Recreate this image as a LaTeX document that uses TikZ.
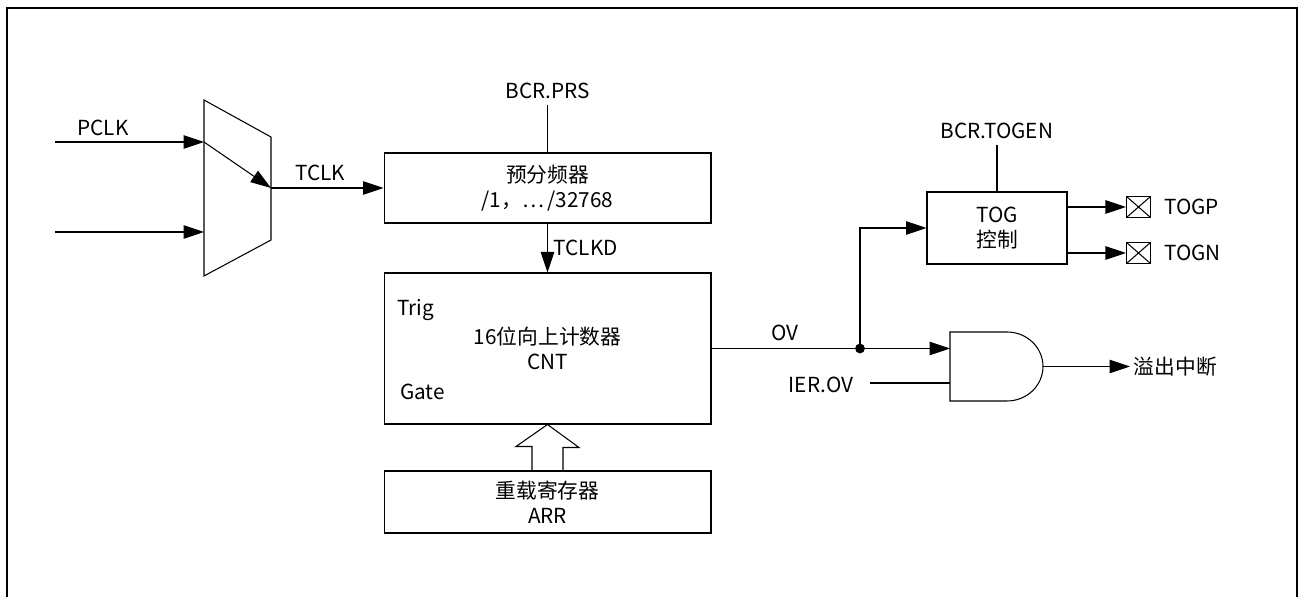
\documentclass[tikz,border=0pt]{standalone}
\usepackage{fontspec}
\setmainfont{Noto Sans CJK SC}
\usetikzlibrary{calc,positioning,arrows.meta}

\tikzset{
  blk/.style={draw, line width=0.6pt, minimum width=6.54cm, inner sep=0pt, align=center},
  sig/.style={-{Triangle[length=0.41cm, width=0.27cm]}, line width=0.6pt},
  wire/.style={line width=0.6pt},
  xbox/.style={draw, line width=0.6pt, minimum width=0.48cm, minimum height=0.42cm, inner sep=0pt,
    path picture={\draw (path picture bounding box.north west) -- (path picture bounding box.south east)
      (path picture bounding box.south west) -- (path picture bounding box.north east);}},
}

\begin{document}
\begin{tikzpicture}[x=0.02cm, y=-0.02cm, font=\fontsize{11.8}{14}\selectfont]
  \useasboundingbox (0,0) rectangle (1302,597);
  % frame, bottom edge cut off
  \draw[line width=0.8pt] (7,600) -- (7,8) -- (1297,8) -- (1297,600);

  % clock selector
  \draw[wire] (204,100) -- (271,137) -- (271,240) -- (204,276) -- cycle;
  \coordinate (muxa) at (204,142);
  \coordinate (muxb) at (204,232);
  \coordinate (muxo) at (271,188);
  \coordinate (pclk) at (55,142);
  \coordinate (clk2) at (55,232);
  \node (pclklbl) at (103,128) {PCLK};
  \node (tclklbl) at (320,173) {TCLK};

  % blocks
  \node[blk, minimum height=1.4cm] (prs) at (547.5,188) {预分频器\\/1，…\,/32768};
  \node[blk, minimum height=3.02cm] (cnt) at (547.5,348.5) {16位向上计数器\\CNT};
  \node[blk, minimum height=1.24cm] (arr) at (547.5,502) {重载寄存器\\ARR};
  \node (bcrprs) at (547.5,91) {BCR.PRS};
  \node[anchor=west] (trig) at (391,310) {Trig};
  \node[anchor=west] (gate) at (394,392) {Gate};

  \draw[sig] (pclk) -- (muxa);
  \draw[sig] (clk2) -- (muxb);
  \draw[sig] (muxa) -- (muxo);
  \draw[sig] (muxo) -- (prs.west);
  \draw[wire] (bcrprs.south) -- (prs.north);
  \draw[sig] (prs.south) -- node[right=0pt] (tclkd) {TCLKD} (cnt.north);

  % reload path
  \draw[wire] ($(arr.north)+(-15.5,0)$) -- ++(0,-24) -- ++(-16,0) -- (cnt.south)
    -- ++(31.5,23) -- ++(-16,0) -- ($(arr.north)+(15.5,0)$);

  % toggle output
  \node[draw, line width=0.6pt, minimum width=2.8cm, minimum height=1.44cm, align=center] (tog) at (997,228) {TOG\\控制};
  \node (bcrtogen) at (997,131) {BCR.TOGEN};
  \node[xbox] (xp) at (1138.5,207) {};
  \node[xbox] (xn) at (1138.5,253) {};
  \node[right=4pt of xp] (togp) {TOGP};
  \node[right=4pt of xn] (togn) {TOGN};
  \draw[wire] (bcrtogen.south) -- (tog.north);
  \draw[sig] (tog.east |- xp) -- (xp.west);
  \draw[sig] (tog.east |- xn) -- (xn.west);

  % overflow gate
  \draw[wire] (950,332) -- (1007,332) arc[start angle=90, end angle=-90, x radius=0.72cm, y radius=0.69cm]
    -- (950,401) -- cycle;
  \coordinate (and1) at (950,348.5);
  \coordinate (and2) at (950,383);
  \coordinate (andout) at (1043,366.5);
  \coordinate (jn) at (860,348.5);
  \coordinate (ieren) at (870,383);
  \node (ovlbl) at (785,333) {OV};
  \node (ierov) at (821,385) {IER.OV};
  \node[anchor=west, inner sep=2pt] (irq) at (1130,366.5) {溢出中断};

  \draw[sig] (cnt.east |- and1) -- (and1);
  \fill (jn) circle (2.8pt);
  \draw[sig] (jn) |- (tog.west);
  \draw[wire] (ieren) -- (and2);
  \draw[sig] (andout) -- (irq.west);
\end{tikzpicture}
\end{document}
